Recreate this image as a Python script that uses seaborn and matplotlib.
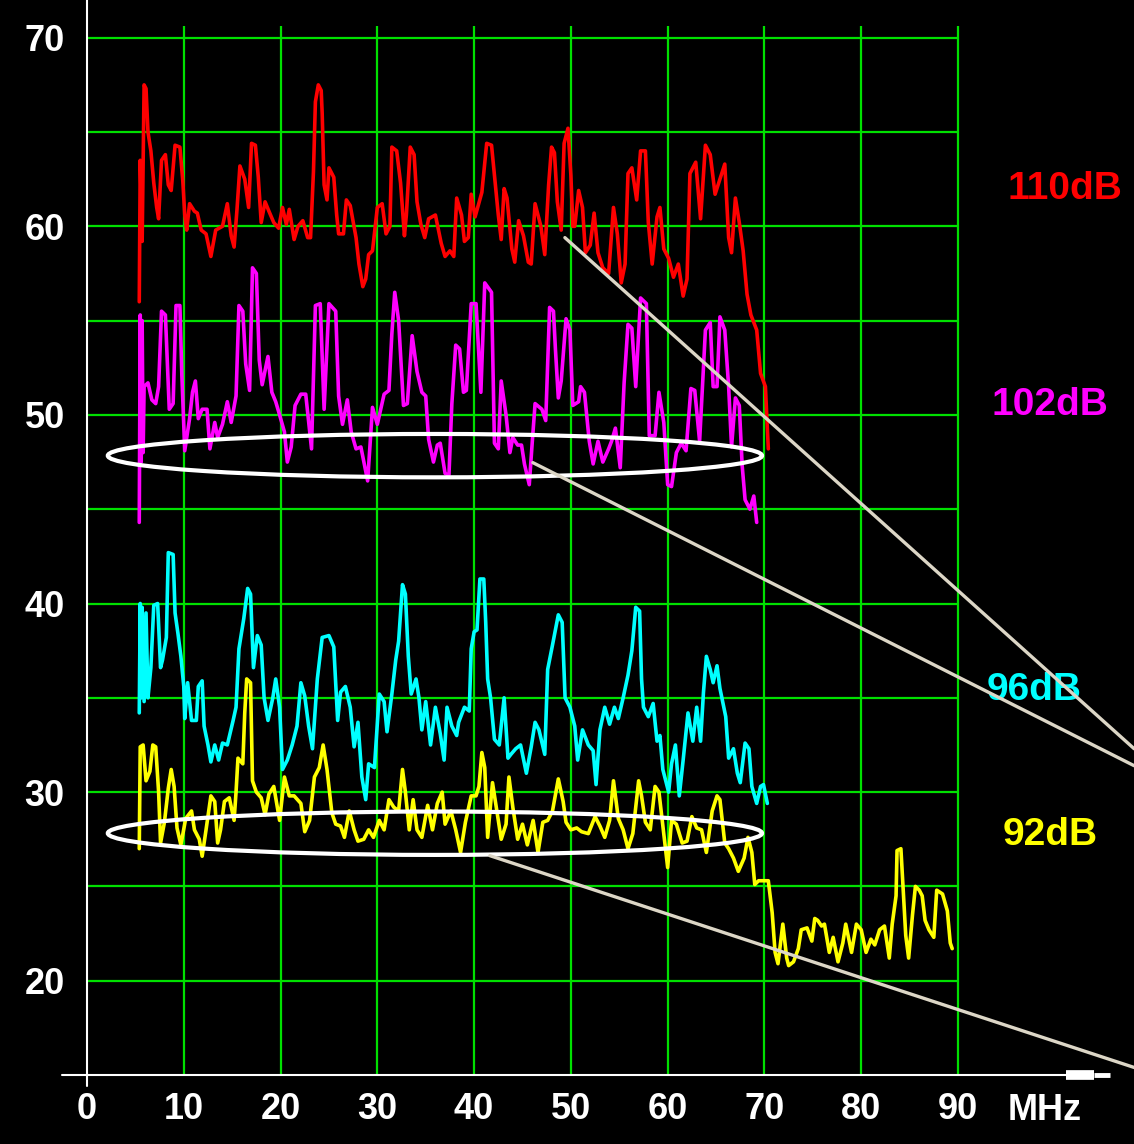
import pandas as pd
import matplotlib
matplotlib.use('Agg')
import matplotlib.pyplot as plt
import seaborn as sns
from matplotlib.patches import Ellipse

# --- 읽어낸 스펙트럼 값 (MHz, dB) ---
RED_110 = [
    (5.4, 56.0), (5.5, 63.5), (5.7, 59.2), (5.9, 67.5), (6.1, 67.3), (6.3, 65.0), (6.6, 64.0),
    (6.9, 62.3), (7.2, 61.0), (7.4, 60.4), (7.7, 63.5), (8.1, 63.8), (8.4, 62.2), (8.7, 61.9),
    (9.1, 64.3), (9.6, 64.2), (9.9, 62.4), (10.1, 60.6), (10.3, 59.8), (10.6, 61.2), (11.1, 60.8),
    (11.4, 60.7), (11.8, 59.8), (12.3, 59.6), (12.8, 58.4), (13.3, 59.8), (14.0, 60.0), (14.5, 61.2),
    (14.9, 59.5), (15.2, 58.9), (15.5, 60.9), (15.8, 63.2), (16.3, 62.5), (16.7, 61.0), (17.0, 64.4),
    (17.4, 64.3), (17.7, 62.6), (18.0, 60.2), (18.4, 61.3), (18.8, 60.8), (19.3, 60.2), (19.8, 59.9),
    (20.2, 61.0), (20.6, 60.1), (20.9, 60.9), (21.4, 59.3), (21.8, 60.0), (22.3, 60.3), (22.8, 59.4),
    (23.1, 59.4), (23.4, 62.9), (23.6, 66.6), (23.9, 67.5), (24.2, 67.2), (24.3, 66.0), (24.5, 62.2),
    (24.8, 61.4), (25.0, 63.1), (25.5, 62.6), (25.8, 60.6), (26.0, 59.6), (26.5, 59.6), (26.8, 61.4),
    (27.2, 61.1), (27.8, 59.4), (28.1, 58.0), (28.5, 56.8), (28.8, 57.2), (29.1, 58.5), (29.5, 58.7),
    (30.0, 61.0), (30.5, 61.2), (30.9, 59.6), (31.3, 60.0), (31.5, 64.2), (32.0, 64.0), (32.4, 62.3),
    (32.8, 59.5), (33.0, 60.6), (33.4, 64.2), (33.8, 63.8), (34.1, 61.3), (34.5, 60.1), (34.9, 59.4),
    (35.3, 60.4), (36.0, 60.6), (36.6, 59.1), (37.0, 58.4), (37.5, 58.7), (37.9, 58.4), (38.2, 61.5),
    (38.7, 60.6), (39.0, 59.2), (39.4, 59.4), (39.7, 61.7), (40.1, 60.5), (40.8, 61.8), (41.3, 64.4),
    (41.8, 64.3), (42.1, 62.7), (42.5, 60.6), (42.8, 59.3), (43.1, 62.0), (43.4, 61.5), (43.9, 58.8),
    (44.2, 58.1), (44.6, 60.3), (45.1, 59.5), (45.6, 58.1), (45.9, 58.0), (46.3, 61.2), (46.9, 60.0),
    (47.3, 58.5), (47.7, 62.2), (48.0, 64.2), (48.3, 63.9), (48.6, 61.3), (49.0, 59.8), (49.3, 64.4),
    (49.7, 65.2), (50.0, 62.7), (50.2, 60.0), (50.4, 60.0), (50.8, 61.9), (51.2, 61.0), (51.5, 58.6),
    (52.0, 59.0), (52.4, 60.7), (52.8, 58.6), (53.3, 57.8), (53.9, 57.5), (54.4, 61.0), (54.8, 59.6),
    (55.2, 57.0), (55.6, 58.0), (55.9, 62.8), (56.3, 63.1), (56.8, 61.4), (57.2, 64.0), (57.7, 64.0),
    (58.0, 60.2), (58.4, 58.0), (58.9, 60.5), (59.2, 61.0), (59.6, 58.8), (60.1, 58.3), (60.6, 57.3),
    (61.1, 58.0), (61.6, 56.3), (62.0, 57.2), (62.3, 62.8), (62.9, 63.4), (63.4, 60.4), (63.9, 64.3),
    (64.4, 63.8), (64.9, 61.7), (65.4, 62.5), (65.9, 63.3), (66.3, 59.4), (66.6, 58.6), (67.0, 61.5),
    (67.4, 60.2), (67.8, 58.7), (68.2, 56.4), (68.6, 55.3), (69.2, 54.5), (69.6, 52.2), (70.1, 51.5),
    (70.4, 48.2),
]

MAGENTA_102 = [
    (5.4, 44.3), (5.5, 55.3), (5.6, 47.5), (5.7, 55.0), (5.8, 48.0), (5.9, 51.5), (6.3, 51.7),
    (6.7, 50.8), (7.1, 50.6), (7.4, 51.5), (7.7, 55.5), (8.1, 55.3), (8.5, 50.3), (8.9, 50.6),
    (9.2, 55.8), (9.6, 55.8), (9.8, 52.1), (10.1, 48.1), (10.6, 49.8), (10.9, 51.2), (11.2, 51.8),
    (11.5, 49.8), (11.9, 50.3), (12.4, 50.3), (12.7, 48.2), (13.2, 49.6), (13.5, 48.8), (14.0, 49.5),
    (14.5, 50.7), (14.9, 49.6), (15.4, 51.0), (15.7, 55.8), (16.1, 55.5), (16.4, 52.7), (16.8, 51.3),
    (17.1, 57.8), (17.5, 57.5), (17.8, 52.9), (18.1, 51.6), (18.7, 53.1), (19.1, 51.2), (19.5, 50.7),
    (19.9, 50.0), (20.4, 49.1), (20.7, 47.5), (21.1, 48.3), (21.5, 50.5), (22.1, 51.1), (22.6, 51.1),
    (23.2, 48.2), (23.6, 55.8), (24.1, 55.9), (24.5, 50.3), (25.0, 55.9), (25.7, 55.5), (26.0, 51.0),
    (26.4, 49.5), (26.9, 50.8), (27.3, 49.1), (27.8, 48.2), (28.3, 48.3), (29.0, 46.5), (29.5, 50.4),
    (30.0, 49.5), (30.7, 51.1), (31.2, 51.3), (31.5, 54.3), (31.8, 56.5), (32.2, 55.0), (32.7, 50.5),
    (33.1, 50.6), (33.6, 54.2), (34.1, 52.3), (34.6, 51.2), (35.0, 51.0), (35.3, 48.7), (35.8, 47.5),
    (36.2, 48.4), (36.5, 48.5), (37.0, 46.9), (37.4, 46.8), (37.7, 50.6), (38.1, 53.7), (38.5, 53.5),
    (38.9, 51.2), (39.2, 51.3), (39.7, 55.9), (40.2, 55.9), (40.7, 51.2), (41.1, 57.0), (41.8, 56.5),
    (42.1, 48.5), (42.5, 48.2), (42.8, 51.8), (43.3, 50.0), (43.7, 48.0), (44.0, 48.8), (44.5, 48.4),
    (44.9, 48.4), (45.2, 47.4), (45.7, 46.3), (46.0, 48.5), (46.3, 50.6), (47.0, 50.3), (47.4, 49.7),
    (47.8, 55.7), (48.2, 55.5), (48.4, 53.5), (48.7, 50.9), (49.0, 51.8), (49.5, 55.1), (49.9, 54.5),
    (50.2, 50.5), (50.8, 50.7), (51.0, 51.5), (51.4, 51.2), (51.9, 48.6), (52.3, 47.4), (52.8, 48.6),
    (53.3, 47.5), (53.9, 48.2), (54.2, 48.6), (54.6, 49.3), (55.1, 47.2), (55.5, 51.7), (55.9, 54.8),
    (56.3, 54.6), (56.7, 51.5), (57.2, 56.2), (57.8, 55.9), (58.1, 48.9), (58.7, 48.9), (59.1, 51.2),
    (59.6, 49.6), (60.0, 46.3), (60.4, 46.2), (60.9, 48.0), (61.4, 48.5), (61.9, 48.1), (62.4, 51.4),
    (62.8, 51.3), (63.3, 48.6), (63.9, 54.5), (64.4, 54.9), (64.7, 51.5), (65.1, 51.5), (65.4, 55.2),
    (65.9, 54.5), (66.3, 51.5), (66.6, 48.3), (67.0, 50.9), (67.4, 50.5), (67.7, 47.3), (68.0, 45.5),
    (68.5, 45.0), (68.9, 45.7), (69.2, 44.3),
]

CYAN_96 = [
    (5.4, 34.2), (5.5, 40.0), (5.6, 35.0), (5.7, 39.8), (5.9, 34.8), (6.1, 39.5), (6.3, 35.0),
    (6.6, 36.6), (6.9, 39.9), (7.3, 40.0), (7.6, 36.6), (7.8, 37.0), (8.2, 38.2), (8.4, 42.7),
    (8.9, 42.6), (9.1, 39.5), (9.4, 38.4), (9.7, 37.2), (10.0, 35.6), (10.1, 33.9), (10.4, 35.8),
    (10.8, 33.8), (11.3, 33.8), (11.5, 35.6), (11.9, 35.9), (12.1, 33.5), (12.5, 32.5), (12.8, 31.6),
    (13.2, 32.5), (13.6, 31.7), (14.0, 32.6), (14.5, 32.5), (15.1, 33.8), (15.4, 34.5), (15.7, 37.6),
    (16.2, 39.2), (16.6, 40.8), (16.9, 40.5), (17.2, 36.6), (17.6, 38.3), (18.0, 37.8), (18.3, 35.0),
    (18.7, 33.8), (19.2, 35.0), (19.5, 36.0), (19.9, 34.5), (20.2, 31.2), (20.7, 31.7), (21.2, 32.5),
    (21.7, 33.5), (22.1, 35.8), (22.5, 35.1), (22.9, 33.5), (23.3, 32.3), (23.8, 36.0), (24.3, 38.2),
    (25.0, 38.3), (25.5, 37.7), (25.9, 33.8), (26.2, 35.3), (26.7, 35.6), (27.2, 34.5), (27.6, 32.4),
    (28.0, 33.7), (28.4, 30.8), (28.8, 29.6), (29.1, 31.5), (29.7, 31.3), (30.2, 35.2), (30.7, 34.8),
    (31.0, 33.2), (31.5, 35.2), (31.9, 37.0), (32.2, 38.0), (32.6, 41.0), (32.9, 40.5), (33.2, 37.2),
    (33.5, 35.2), (34.0, 36.0), (34.3, 35.0), (34.6, 33.3), (35.0, 34.8), (35.5, 32.5), (36.0, 34.5),
    (36.5, 33.1), (36.9, 31.7), (37.2, 34.5), (37.7, 33.5), (38.2, 33.0), (38.4, 33.7), (39.0, 34.5),
    (39.5, 34.3), (39.7, 37.6), (40.0, 38.5), (40.3, 38.6), (40.6, 41.3), (41.0, 41.3), (41.2, 39.0),
    (41.4, 36.0), (41.7, 35.0), (42.1, 32.8), (42.6, 32.5), (43.1, 35.0), (43.5, 31.8), (43.8, 32.0),
    (44.3, 32.3), (44.8, 32.5), (45.4, 31.0), (45.9, 32.4), (46.3, 33.7), (46.7, 33.3), (47.3, 32.0),
    (47.6, 36.5), (48.1, 37.8), (48.7, 39.4), (49.1, 39.0), (49.4, 35.0), (49.9, 34.5), (50.4, 33.5),
    (50.7, 31.7), (51.2, 33.3), (51.8, 32.5), (52.3, 32.2), (52.6, 30.4), (53.0, 33.3), (53.5, 34.5),
    (54.0, 33.6), (54.5, 34.5), (54.9, 33.9), (55.4, 35.0), (55.9, 36.2), (56.3, 37.5), (56.7, 39.8),
    (57.1, 39.6), (57.3, 36.0), (57.5, 34.5), (58.0, 34.0), (58.5, 34.7), (58.9, 32.7), (59.2, 33.0),
    (59.5, 31.2), (60.1, 30.0), (60.4, 31.5), (60.8, 32.5), (61.2, 29.8), (61.6, 31.7), (62.1, 34.2),
    (62.6, 32.7), (63.0, 34.5), (63.4, 32.7), (63.7, 35.3), (64.0, 37.2), (64.4, 36.5), (64.7, 35.8),
    (65.1, 36.7), (65.4, 35.5), (66.0, 34.0), (66.3, 31.8), (66.8, 32.3), (67.2, 31.0), (67.5, 30.5),
    (68.0, 32.6), (68.4, 32.3), (68.7, 30.3), (69.2, 29.4), (69.6, 30.3), (69.9, 30.4), (70.3, 29.4),
]

YELLOW_92 = [
    (5.4, 27.0), (5.5, 32.4), (5.8, 32.5), (6.1, 30.6), (6.5, 31.1), (6.8, 32.5), (7.1, 32.4),
    (7.4, 30.0), (7.6, 27.3), (8.0, 28.4), (8.4, 30.2), (8.7, 31.2), (9.0, 30.3), (9.3, 28.1),
    (9.7, 27.2), (10.2, 28.6), (10.8, 29.0), (11.1, 28.0), (11.6, 27.5), (11.9, 26.6), (12.3, 28.0),
    (12.8, 29.8), (13.2, 29.5), (13.5, 27.3), (13.8, 28.0), (14.2, 29.5), (14.7, 29.7), (15.2, 28.5),
    (15.4, 30.0), (15.6, 31.8), (16.1, 31.5), (16.3, 34.2), (16.5, 36.0), (16.9, 35.8), (17.1, 30.6),
    (17.5, 30.0), (18.0, 29.7), (18.4, 28.8), (18.8, 29.9), (19.3, 30.3), (19.9, 28.5), (20.4, 30.8),
    (20.9, 29.8), (21.4, 29.8), (22.1, 29.4), (22.5, 27.9), (23.0, 28.5), (23.5, 30.8), (24.0, 31.3),
    (24.4, 32.5), (24.8, 31.2), (25.3, 28.9), (25.7, 28.3), (26.2, 28.2), (26.6, 27.6), (27.1, 29.0),
    (27.6, 28.0), (28.0, 27.4), (28.6, 27.5), (29.1, 28.0), (29.6, 27.6), (30.2, 28.5), (30.7, 28.0),
    (31.2, 29.6), (31.7, 29.2), (32.2, 29.0), (32.6, 31.2), (32.9, 30.0), (33.3, 28.0), (33.7, 29.6),
    (34.1, 28.0), (34.6, 27.6), (35.2, 29.3), (35.7, 28.0), (36.2, 29.4), (36.7, 30.0), (37.0, 28.3),
    (37.6, 29.0), (38.1, 28.0), (38.6, 26.8), (39.1, 28.4), (39.7, 29.8), (40.2, 29.8), (40.5, 30.3),
    (40.8, 32.1), (41.1, 31.3), (41.4, 27.6), (41.9, 30.5), (42.2, 29.5), (42.8, 27.5), (43.3, 28.3),
    (43.6, 30.8), (44.0, 29.2), (44.5, 27.5), (45.0, 28.3), (45.5, 27.2), (46.1, 28.5), (46.6, 26.8),
    (47.1, 28.4), (47.6, 28.5), (48.1, 29.0), (48.7, 30.7), (49.2, 29.5), (49.5, 28.4), (50.0, 28.0),
    (50.6, 28.1), (51.1, 27.9), (51.8, 27.8), (52.5, 28.7), (53.0, 28.2), (53.5, 27.6), (54.0, 28.5),
    (54.4, 30.6), (54.9, 28.6), (55.4, 28.0), (55.9, 27.0), (56.4, 27.8), (57.0, 30.6), (57.3, 29.8),
    (57.7, 28.4), (58.2, 28.0), (58.7, 30.3), (59.1, 30.0), (59.6, 27.8), (60.0, 26.0), (60.4, 28.5),
    (60.9, 28.3), (61.5, 27.3), (62.0, 27.4), (62.5, 28.7), (63.0, 28.1), (63.5, 28.0), (64.0, 26.8),
    (64.6, 29.0), (65.1, 29.8), (65.4, 29.6), (65.9, 27.3), (66.3, 27.0), (66.8, 26.5), (67.3, 25.8),
    (67.9, 26.5), (68.3, 27.6), (68.7, 26.8), (69.0, 25.1), (69.4, 25.3), (70.4, 25.3), (70.8, 23.6),
    (71.1, 21.5), (71.4, 20.9), (71.9, 23.0), (72.3, 21.2), (72.5, 20.8), (73.0, 21.0), (73.5, 21.7),
    (73.8, 22.7), (74.4, 22.8), (74.9, 22.1), (75.2, 23.3), (75.5, 23.2), (75.9, 22.9), (76.2, 23.0),
    (76.7, 21.5), (77.1, 22.3), (77.6, 21.0), (78.1, 22.0), (78.4, 23.0), (79.0, 21.5), (79.5, 23.0),
    (80.0, 22.7), (80.5, 21.5), (81.0, 22.2), (81.4, 21.9), (81.9, 22.7), (82.4, 22.9), (82.9, 21.2),
    (83.2, 23.0), (83.6, 24.5), (83.7, 26.9), (84.1, 27.0), (84.4, 24.3), (84.6, 22.4), (84.9, 21.2),
    (85.3, 23.5), (85.6, 25.0), (86.0, 24.8), (86.3, 24.5), (86.6, 23.2), (87.0, 22.7), (87.5, 22.3),
    (87.8, 24.8), (88.4, 24.6), (88.9, 23.7), (89.2, 22.0), (89.4, 21.7),
]

LEVELS = ['110dB', '102dB', '96dB', '92dB']
COLORS = ['#FF0000', '#FF00FF', '#00FFFF', '#FFFF00']
LABEL_POS = [(101.0, 62.0), (99.5, 50.5), (97.9, 35.4), (99.5, 27.7)]
X_TICKS = list(range(0, 100, 10))
Y_TICKS = list(range(20, 80, 10))

GREEN = '#00E000'
BEIGE = '#DCD6C6'

frames = []
for name, series in zip(LEVELS, [RED_110, MAGENTA_102, CYAN_96, YELLOW_92]):
    part = pd.DataFrame(series, columns=['MHz', 'dB'])
    part['level'] = name
    frames.append(part)
df = pd.concat(frames, ignore_index=True)

sns.set_style('dark')
plt.rcParams['font.family'] = ['Liberation Sans', 'DejaVu Sans']

fig = plt.figure(figsize=(11.34, 11.44), dpi=100, facecolor='black')
ax = fig.add_axes([87 / 1134, 1 - 1075 / 1144, 871 / 1134, 1075 / 1144])
ax.set_facecolor('black')
ax.set_xlim(0, 90)
ax.set_ylim(15, 72)

# 녹색 격자 (0~90 MHz 범위만)
ax.hlines(list(range(20, 75, 5)), 0, 90, colors=GREEN, lw=1.6, zorder=1, clip_on=False)
ax.vlines(X_TICKS[1:], 15, 70.6, colors=GREEN, lw=1.6, zorder=1, clip_on=False)

sns.lineplot(data=df, x='MHz', y='dB', hue='level', palette=dict(zip(LEVELS, COLORS)),
             estimator=None, sort=False, legend=False, lw=2.6, ax=ax, zorder=3)

# 축선
ax.plot([0, 0], [14.4, 72], color='white', lw=1.5, clip_on=False, zorder=4)
ax.plot([-2.6, 101.2], [15, 15], color='white', lw=1.5, clip_on=False, zorder=4)
ax.plot([101.2, 104.1], [15, 15], color='white', lw=7, solid_capstyle='butt', clip_on=False)
ax.plot([104.1, 105.7], [15, 15], color='white', lw=3.5, solid_capstyle='butt', clip_on=False)

for spine in ax.spines.values():
    spine.set_visible(False)

ax.set_xticks(X_TICKS, labels=[str(v) for v in X_TICKS])
ax.set_yticks(Y_TICKS, labels=[str(v) for v in Y_TICKS])
ax.tick_params(axis='both', length=0, colors='white', labelsize=26)
ax.tick_params(axis='x', pad=12)
ax.tick_params(axis='y', pad=16)
for lab in ax.get_xticklabels() + ax.get_yticklabels():
    lab.set_fontweight('bold')
ax.set_xlabel('')
ax.set_ylabel('')
ax.text(99.0, 13.1, 'MHz', color='white', fontsize=26, fontweight='bold',
        ha='center', va='center', clip_on=False)

# 레벨 라벨
for name, color, (lx, ly) in zip(LEVELS, COLORS, LABEL_POS):
    ax.text(lx, ly, name, color=color, fontsize=28, fontweight='bold',
            ha='center', va='center', zorder=3)

# 강조 타원 + 안내선
ax.add_patch(Ellipse((35.95, 47.84), 67.6, 2.3, fill=False, ec='white', lw=3, zorder=5))
ax.add_patch(Ellipse((35.95, 27.82), 67.6, 2.3, fill=False, ec='white', lw=3, zorder=5))
ax.plot([49.38, 108.2], [59.40, 32.3], color=BEIGE, lw=2.4, clip_on=False, zorder=6)
ax.plot([46.07, 108.2], [47.47, 31.4], color=BEIGE, lw=2.4, clip_on=False, zorder=6)
ax.plot([41.63, 108.2], [26.63, 15.4], color=BEIGE, lw=2.4, clip_on=False, zorder=6)

fig.savefig('out.png', dpi=100, facecolor='black')
